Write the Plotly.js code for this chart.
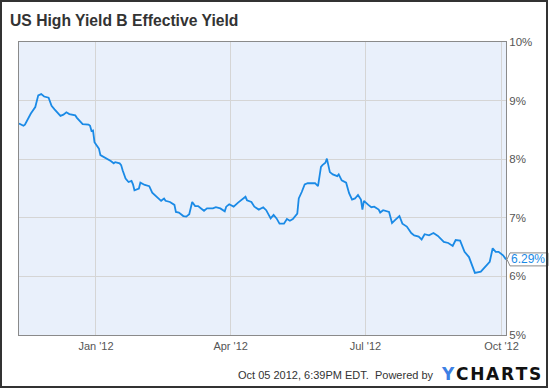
<!DOCTYPE html>
<html><head><meta charset="utf-8">
<script src="https://cdn.plot.ly/plotly-3.0.1.min.js"></script>
<style>
html,body{margin:0;padding:0;background:#fff;}
#wrap{position:relative;width:550px;height:388px;}
#chart{width:550px;height:388px;}
#frame{position:absolute;left:0;top:0;width:548px;height:388px;box-sizing:border-box;border:2px solid #333;pointer-events:none;}
</style></head><body>
<div id="wrap"><div id="chart"></div><div id="frame"></div></div>
<script>
const dates = [
'2011-11-10','2011-11-13','2011-11-14','2011-11-16','2011-11-18','2011-11-21','2011-11-23','2011-11-25','2011-11-27','2011-11-30',
'2011-12-02','2011-12-04','2011-12-08','2011-12-10','2011-12-12','2011-12-14','2011-12-18','2011-12-19','2011-12-21','2011-12-23',
'2011-12-27','2011-12-28','2011-12-29','2011-12-30','2011-12-31','2012-01-03','2012-01-04','2012-01-07','2012-01-09','2012-01-11',
'2012-01-13','2012-01-14','2012-01-17','2012-01-18','2012-01-19','2012-01-21','2012-01-23','2012-01-25','2012-01-26','2012-01-27',
'2012-01-30','2012-01-31','2012-02-03','2012-02-06','2012-02-08','2012-02-11','2012-02-14','2012-02-16','2012-02-17','2012-02-20',
'2012-02-23','2012-02-24','2012-02-26','2012-02-29','2012-03-02','2012-03-04','2012-03-06','2012-03-08','2012-03-10','2012-03-12',
'2012-03-14','2012-03-16','2012-03-20','2012-03-22','2012-03-25','2012-03-28','2012-03-29','2012-03-31','2012-04-03','2012-04-06',
'2012-04-11','2012-04-12','2012-04-15','2012-04-17','2012-04-20','2012-04-23','2012-04-25','2012-04-28','2012-04-30','2012-05-02',
'2012-05-04','2012-05-07','2012-05-09','2012-05-11','2012-05-13','2012-05-16','2012-05-17','2012-05-19','2012-05-21','2012-05-23',
'2012-05-28','2012-05-30','2012-06-01','2012-06-02','2012-06-04','2012-06-05','2012-06-07','2012-06-09','2012-06-12','2012-06-13',
'2012-06-15','2012-06-18','2012-06-20','2012-06-22','2012-06-24','2012-06-26','2012-06-28','2012-06-29','2012-06-30','2012-07-03',
'2012-07-05','2012-07-07','2012-07-10','2012-07-11','2012-07-13','2012-07-17','2012-07-19','2012-07-21','2012-07-24','2012-07-26',
'2012-07-29','2012-08-01','2012-08-03','2012-08-06','2012-08-08','2012-08-10','2012-08-13','2012-08-16','2012-08-19','2012-08-23',
'2012-08-26','2012-08-29','2012-08-31','2012-09-03','2012-09-06','2012-09-09','2012-09-11','2012-09-13','2012-09-17','2012-09-20',
'2012-09-23','2012-09-25','2012-09-27','2012-09-29','2012-10-02','2012-10-04'
];
const yields = [
8.61,8.57,8.59,8.69,8.78,8.89,9.09,9.11,9.07,9.05,
8.91,8.85,8.74,8.76,8.80,8.77,8.75,8.71,8.65,8.60,
8.59,8.57,8.48,8.49,8.29,8.18,8.07,8.03,8.01,7.97,
7.93,7.95,7.93,7.90,7.81,7.67,7.61,7.63,7.57,7.47,
7.50,7.60,7.56,7.54,7.43,7.36,7.29,7.33,7.29,7.27,
7.22,7.10,7.09,7.03,7.02,7.06,7.27,7.20,7.20,7.16,
7.12,7.16,7.16,7.18,7.16,7.11,7.19,7.23,7.19,7.26,
7.36,7.30,7.27,7.19,7.14,7.18,7.13,6.99,7.05,6.99,
6.90,6.90,6.98,6.95,6.98,7.07,7.33,7.44,7.57,7.59,
7.59,7.54,7.87,7.90,7.94,8.01,7.78,7.74,7.71,7.74,
7.64,7.60,7.42,7.31,7.33,7.39,7.31,7.14,7.29,7.22,
7.18,7.19,7.14,7.09,7.13,7.10,6.91,6.96,7.03,6.90,
6.85,6.74,6.70,6.68,6.63,6.72,6.70,6.74,6.69,6.59,
6.57,6.52,6.62,6.61,6.42,6.33,6.19,6.06,6.08,6.16,
6.25,6.48,6.42,6.42,6.36,6.29
];
const tickDates = ['2012-01-01','2012-04-01','2012-07-01','2012-10-01'];
const tickLabels = ["Jan '12","Apr '12","Jul '12","Oct '12"];
const yTicks = [5,6,7,8,9,10];
const yTickLabels = ['5%','6%','7%','8%','9%','10%'];
const titleText = 'US High Yield B Effective Yield';
const footerText = 'Oct 05 2012, 6:39PM EDT.  Powered by';

const W = 550, H = 388;
const M = {l:19, r:44, t:42, b:53};
const pw = W - M.l - M.r, ph = H - M.t - M.b;
const px = v => (v - M.l) / pw;
const py = v => (H - M.b - v) / ph;

const FONT = 'Liberation Sans, Arial, sans-serif';
const BLUE = '#1a8ae6';
const yMin = yTicks[0], yMax = yTicks[yTicks.length-1];
const last = yields[yields.length-1];
const lastY = (last - yMin) / (yMax - yMin);

const trace = {
  x: dates, y: yields, type: 'scatter', mode: 'lines',
  line: {color: BLUE, width: 1.8}, hoverinfo: 'skip'
};

const layout = {
  width: W, height: H,
  margin: M,
  paper_bgcolor: '#ffffff',
  plot_bgcolor: '#e9f0fb',
  showlegend: false,
  font: {family: FONT, size: 11, color: '#555'},
  title: {
    text: '<b>' + titleText + '</b>',
    font: {family: FONT, size: 15.7, color: '#333'},
    xref: 'container', x: 10/W, xanchor: 'left',
    yref: 'container', y: 1 - 20.5/H, yanchor: 'middle'
  },
  xaxis: {
    type: 'date',
    range: [dates[0], dates[dates.length-1]],
    tickmode: 'array', tickvals: tickDates, ticktext: tickLabels,
    showgrid: true, gridcolor: '#d5d5d5', gridwidth: 1,
    showline: true, linecolor: '#8a8a8a', linewidth: 1, mirror: true,
    ticks: '', zeroline: false, ticklabelstandoff: 1,
    tickfont: {family: FONT, size: 11, color: '#555'}
  },
  yaxis: {
    side: 'right',
    range: [yMin, yMax],
    tickmode: 'array', tickvals: yTicks, ticktext: yTickLabels,
    showgrid: true, gridcolor: '#d5d5d5', gridwidth: 1,
    showline: true, linecolor: '#8a8a8a', linewidth: 1, mirror: true,
    ticks: '', zeroline: false,
    tickfont: {family: FONT, size: 11.5, color: '#555'}
  },
  shapes: [{
    type: 'path', xref: 'paper', yref: 'paper',
    xsizemode: 'pixel', ysizemode: 'pixel',
    xanchor: 1, yanchor: lastY,
    path: 'M1,0 L4,6.5 L42,6.5 L42,-6.5 L4,-6.5 Z',
    fillcolor: '#ffffff', line: {color: '#8a8a8a', width: 1}, layer: 'above'
  }],
  annotations: [
    {
      text: last.toFixed(2) + '%', xref: 'paper', yref: 'paper',
      x: 1, y: lastY, xanchor: 'left', yanchor: 'middle', xshift: 3,
      showarrow: false, font: {family: FONT, size: 12, color: BLUE}
    },
    {
      text: footerText, xref: 'paper', yref: 'paper',
      x: px(436), y: py(375), xanchor: 'right', yanchor: 'middle',
      showarrow: false, font: {family: FONT, size: 11, color: '#333'}
    },
    {
      text: "<span style='color:#3d80e4'>Y</span>\u200aC\u200aH\u200aA\u200aR\u200aT\u200aS",
      xref: 'paper', yref: 'paper',
      x: px(439), y: py(374), xanchor: 'left', yanchor: 'middle',
      showarrow: false, font: {family: 'DejaVu Sans, Arial, sans-serif', size: 17, color: '#111', weight: 'bold'}
    }
  ]
};

Plotly.newPlot('chart', [trace], layout, {displayModeBar: false, staticPlot: true});
</script>
</body></html>
